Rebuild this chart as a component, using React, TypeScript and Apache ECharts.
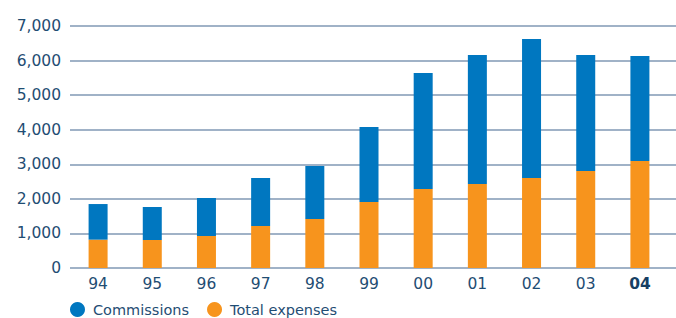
import React, { useEffect, useRef } from "react";
import * as echarts from "echarts";

const years = ["94", "95", "96", "97", "98", "99", "00", "01", "02", "03", "04"];
const totalExpenses = [820, 810, 925, 1215, 1420, 1910, 2285, 2430, 2600, 2805, 3095];
const commissions = [1030, 955, 1100, 1385, 1530, 2170, 3355, 3730, 4025, 3355, 3035];
const yTicks = { min: 0, max: 7000, interval: 1000 };

const BLUE = "#0077c0";
const ORANGE = "#f7941d";
const TEXT = "#1f4d73";
const GRID = "#8099b5";
const FONT = "DejaVu Sans";

export default function App() {
  const ref = useRef<HTMLDivElement>(null);
  useEffect(() => {
    const chart = echarts.init(ref.current!, undefined, { renderer: "svg" });
    chart.setOption({
      animation: false,
      textStyle: { fontFamily: FONT },
      grid: [
        { left: 70, right: 0, top: 26, bottom: 50 },
        { left: 71, right: 9, top: 26, bottom: 50 },
      ],
      legend: {
        left: 70,
        top: 302,
        padding: 0,
        icon: "circle",
        itemWidth: 15,
        itemHeight: 15,
        itemGap: 18,
        textStyle: { color: TEXT, fontSize: 14.5, fontFamily: FONT, padding: [0, 0, 0, 3] },
        data: ["Commissions", "Total expenses"],
      },
      xAxis: [
        { type: "value", gridIndex: 0, show: false, min: 0, max: 1 },
        {
          type: "category",
          gridIndex: 1,
          data: years,
          axisLine: { show: false },
          axisTick: { show: false },
          axisLabel: {
            interval: 0,
            color: TEXT,
            fontSize: 15.5,
            fontFamily: FONT,
            margin: 8,
            formatter: (v: string) => (v === "04" ? `{b|${v}}` : v),
            rich: { b: { fontWeight: "bold", color: "#173f63", fontSize: 15.5, fontFamily: FONT } },
          },
        },
      ],
      yAxis: [
        {
          type: "value",
          gridIndex: 0,
          min: yTicks.min,
          max: yTicks.max,
          interval: yTicks.interval,
          axisLine: { show: false },
          axisTick: { show: false },
          splitLine: { lineStyle: { color: GRID, width: 1.5 } },
          axisLabel: {
            color: TEXT,
            fontSize: 15.5,
            fontFamily: FONT,
            margin: 9,
            padding: [0, 0, 9, 0],
            formatter: (v: number) => v.toLocaleString("en-US"),
          },
        },
        {
          type: "value",
          gridIndex: 1,
          min: yTicks.min,
          max: yTicks.max,
          interval: yTicks.interval,
          show: false,
        },
      ],
      series: [
        {
          name: "Total expenses",
          type: "bar",
          xAxisIndex: 1,
          yAxisIndex: 1,
          stack: "t",
          barWidth: 19,
          itemStyle: { color: ORANGE },
          data: totalExpenses,
        },
        {
          name: "Commissions",
          type: "bar",
          xAxisIndex: 1,
          yAxisIndex: 1,
          stack: "t",
          barWidth: 19,
          itemStyle: { color: BLUE },
          data: commissions,
        },
      ],
    });
    return () => chart.dispose();
  }, []);
  return (
    <div
      ref={ref}
      style={{ position: "fixed", left: 0, top: 0, width: 676, height: 318, background: "#fff" }}
    />
  );
}
